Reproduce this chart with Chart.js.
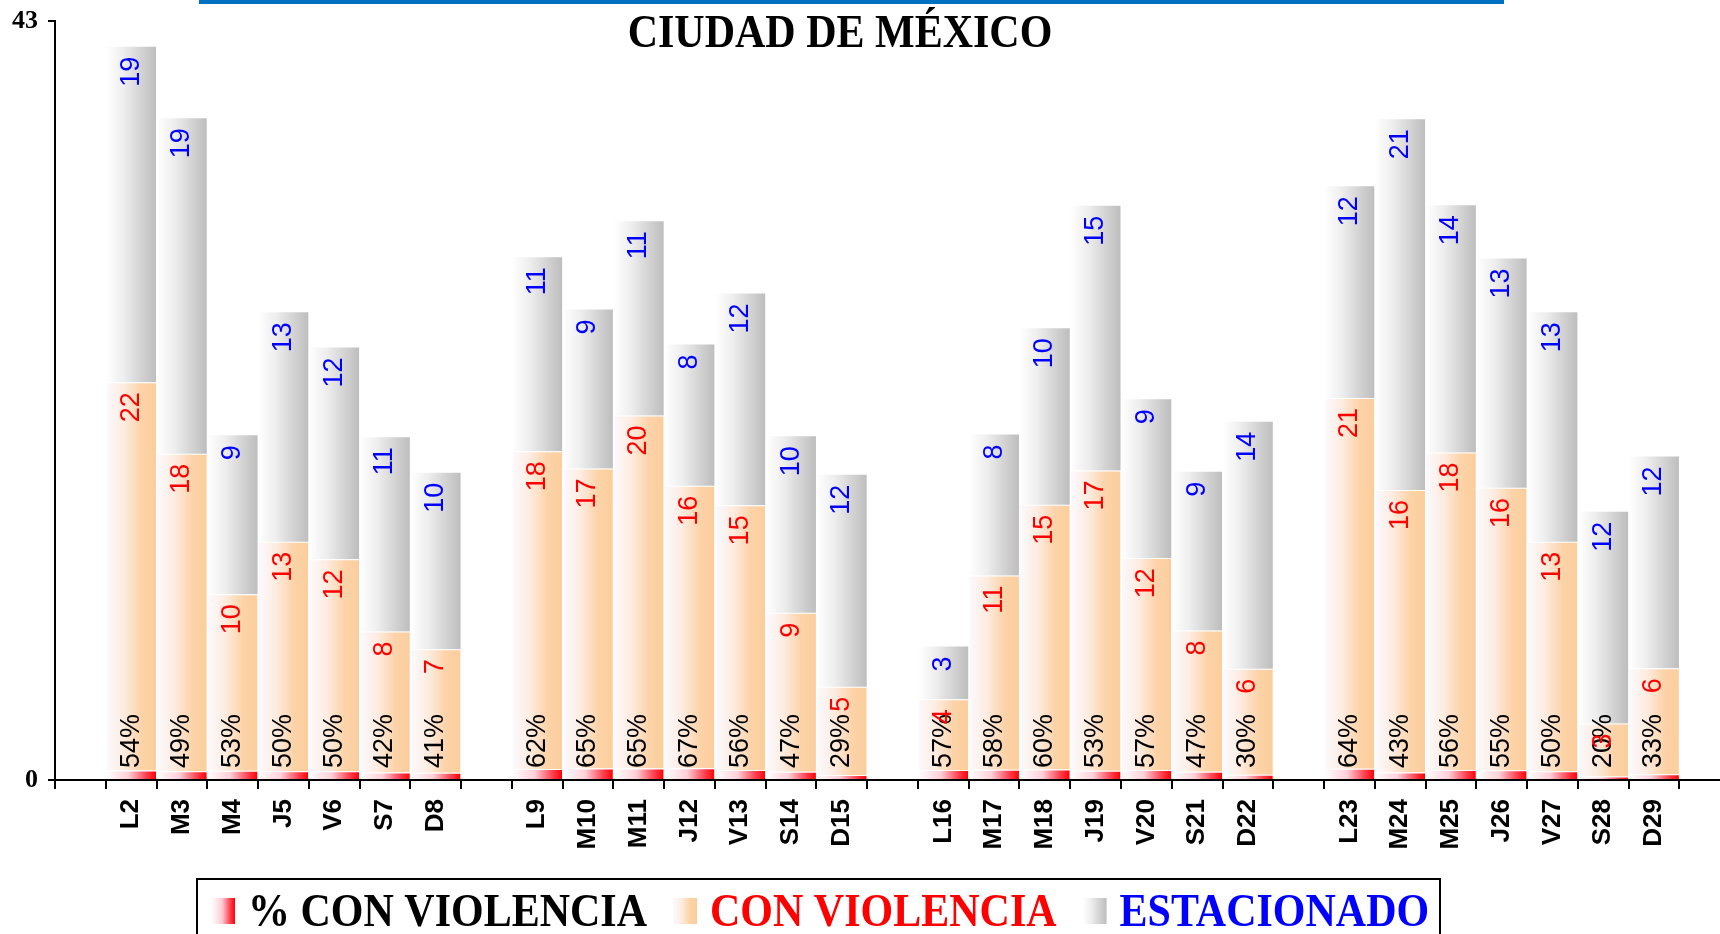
<!DOCTYPE html>
<html>
<head>
<meta charset="utf-8">
<script src="https://cdn.jsdelivr.net/npm/chart.js@4.4.1/dist/chart.umd.min.js"></script>
<style>
  html, body { margin: 0; padding: 0; background: #ffffff; overflow: hidden; }
  #wrap { width: 1746px; height: 934px; }
</style>
</head>
<body>
<div id="wrap"><canvas id="c" width="1746" height="934"></canvas></div>
<script>
// ---- DATA ----
const chartTitle = "CIUDAD DE MÉXICO";
const weekDays = [
  ["L2", "M3", "M4", "J5", "V6", "S7", "D8"],
  ["L9", "M10", "M11", "J12", "V13", "S14", "D15"],
  ["L16", "M17", "M18", "J19", "V20", "S21", "D22"],
  ["L23", "M24", "M25", "J26", "V27", "S28", "D29"]
];
const conViolencia = [
  [22, 18, 10, 13, 12, 8, 7],
  [18, 17, 20, 16, 15, 9, 5],
  [4, 11, 15, 17, 12, 8, 6],
  [21, 16, 18, 16, 13, 3, 6]
];
const estacionado = [
  [19, 19, 9, 13, 12, 11, 10],
  [11, 9, 11, 8, 12, 10, 12],
  [3, 8, 10, 15, 9, 9, 14],
  [12, 21, 14, 13, 13, 12, 12]
];
const pctConViolencia = [
  [54, 49, 53, 50, 50, 42, 41],
  [62, 65, 65, 67, 56, 47, 29],
  [57, 58, 60, 53, 57, 47, 30],
  [64, 43, 56, 55, 50, 20, 33]
];
const yTickValues = [0, 43];
const seriesNames = ["% CON VIOLENCIA", "CON VIOLENCIA", "ESTACIONADO"];

// Build category list with an empty slot before each week (and one at the end)
function withGaps(groups, mapFn) {
  const out = [];
  groups.forEach(g => { out.push(mapFn ? null : ""); g.forEach(v => out.push(mapFn ? mapFn(v) : v)); });
  out.push(mapFn ? null : "");
  return out;
}
const labels = withGaps(weekDays);
const dataCon = withGaps(conViolencia, v => v);
const dataEst = withGaps(estacionado, v => v);
const dataPctLabel = withGaps(pctConViolencia, v => v);
const dataPct = dataPctLabel.map(v => v == null ? null : v / 100);

// ---- STYLES ----
const gradRed = [[0, "#ffffff"], [0.45, "#ffd0d8"], [0.8, "#ff4050"], [1, "#ff0000"]];
const gradOrange = [[0, "#fbfaff"], [0.35, "#fdece0"], [0.7, "#fcd3a8"], [1, "#fbcd9b"]];
const gradGray = [[0, "#ffffff"], [0.35, "#eeeeee"], [0.75, "#cfcfcf"], [1, "#bdbdbd"]];

function makeGrad(stops) {
  return (ctx) => {
    const chart = ctx.chart;
    const xs = chart.scales && chart.scales.x;
    if (!xs || !chart.chartArea || ctx.dataIndex === undefined) return stops[stops.length - 1][1];
    const c = xs.getPixelForValue(ctx.dataIndex);
    const w = (xs.right - xs.left) / chart.data.labels.length;
    const g = chart.ctx.createLinearGradient(c - w / 2, 0, c + w / 2, 0);
    stops.forEach(s => g.addColorStop(s[0], s[1]));
    return g;
  };
}
function makeSwatchGrad(ctx, x, w, stops) {
  const g = ctx.createLinearGradient(x, 0, x + w, 0);
  stops.forEach(s => g.addColorStop(s[0], s[1]));
  return g;
}

const decorPlugin = {
  id: "decor",
  beforeDraw(chart) {
    const ctx = chart.ctx;
    ctx.save();
    ctx.fillStyle = "#ffffff";
    ctx.fillRect(0, 0, chart.width, chart.height);
    // blue rule at the top
    ctx.fillStyle = "#0070c0";
    ctx.fillRect(199, 0, 1305, 4);
    ctx.restore();
  },
  afterDraw(chart) {
    const ctx = chart.ctx;
    ctx.save();
    // title
    ctx.fillStyle = "#000000";
    ctx.font = "bold 42px 'Liberation Serif', 'Times New Roman', serif";
    ctx.textAlign = "center";
    ctx.textBaseline = "alphabetic";
    ctx.save();
    ctx.translate(840, 47);
    ctx.scale(1, 1.1);
    ctx.fillText(chartTitle, 0, 0);
    ctx.restore();

    // legend
    const colors = ["#000000", "#ff0000", "#0000ff"];
    const grads = [gradRed, gradOrange, gradGray];
    ctx.font = "bold 42px 'Liberation Serif', 'Times New Roman', serif";
    ctx.textAlign = "left";
    let x = 211;
    const sw = 24, gap = 13, itemGap = 26;
    seriesNames.forEach((name, i) => {
      ctx.fillStyle = makeSwatchGrad(ctx, x, sw, grads[i]);
      ctx.fillRect(x, 898, sw, 26);
      x += sw + gap;
      ctx.fillStyle = colors[i];
      ctx.save();
      ctx.translate(x, 926);
      ctx.scale(1, 1.12);
      ctx.fillText(name, 0, 0);
      ctx.restore();
      x += ctx.measureText(name).width + itemGap;
    });
    ctx.strokeStyle = "#000000";
    ctx.lineWidth = 2;
    ctx.strokeRect(197, 879, 1243, 70);
    ctx.restore();
  }
};

const valueLabelPlugin = {
  id: "valueLabels",
  afterDatasetsDraw(chart) {
    const ctx = chart.ctx;
    const ys = chart.scales.y;
    const zero = ys.getPixelForValue(0);
    ctx.save();
    ctx.font = "27px 'Liberation Sans', Arial, sans-serif";
    ctx.textBaseline = "middle";
    chart.data.datasets.forEach((ds, di) => {
      const meta = chart.getDatasetMeta(di);
      meta.data.forEach((el, i) => {
        const raw = ds.data[i];
        if (raw == null) return;
        ctx.save();
        if (di === 0) {
          ctx.translate(el.x, zero - 12);
          ctx.rotate(-Math.PI / 2);
          ctx.textAlign = "left";
          ctx.fillStyle = "#000000";
          ctx.fillText(dataPctLabel[i] + "%", 0, 0);
        } else {
          ctx.translate(el.x, el.y + 10);
          ctx.rotate(-Math.PI / 2);
          ctx.textAlign = "right";
          ctx.fillStyle = di === 1 ? "#ff0000" : "#0000ff";
          ctx.fillText(String(raw), 0, 0);
        }
        ctx.restore();
      });
    });
    ctx.restore();
  }
};

new Chart(document.getElementById("c"), {
  type: "bar",
  data: {
    labels: labels,
    datasets: [
      { label: seriesNames[0], data: dataPct, backgroundColor: makeGrad(gradRed),
        borderColor: "#ffffff", borderWidth: { top: 1, left: 0, right: 0, bottom: 0 }, borderSkipped: false },
      { label: seriesNames[1], data: dataCon, backgroundColor: makeGrad(gradOrange),
        borderColor: "#ffffff", borderWidth: { top: 1, left: 0, right: 0, bottom: 0 }, borderSkipped: false },
      { label: seriesNames[2], data: dataEst, backgroundColor: makeGrad(gradGray), borderWidth: 0 }
    ]
  },
  options: {
    responsive: false,
    animation: false,
    devicePixelRatio: 1,
    layout: { padding: { top: 21, left: 0, right: 0, bottom: 0 } },
    datasets: { bar: { categoryPercentage: 0.98, barPercentage: 1.0 } },
    plugins: {
      legend: { display: false },
      title: { display: false },
      tooltip: { enabled: false }
    },
    scales: {
      x: {
        stacked: true,
        offset: true,
        afterFit(scale) { scale.height = 154; },
        grid: { display: true, drawOnChartArea: false, drawTicks: true, tickLength: 9, offset: true,
                color: "#000000", lineWidth: 2 },
        border: { display: true, color: "#000000", width: 2 },
        ticks: {
          autoSkip: false, minRotation: 90, maxRotation: 90, padding: 10,
          color: "#000000",
          font: { family: "'Liberation Sans', Arial, sans-serif", size: 26, weight: "bold" }
        }
      },
      y: {
        stacked: true,
        min: 0, max: 43,
        afterFit(scale) { scale.width = 55; scale.paddingTop = 0; scale.paddingBottom = 0; },
        afterBuildTicks(scale) { scale.ticks = yTickValues.map(v => ({ value: v })); },
        grid: { display: true, drawOnChartArea: false, drawTicks: true, tickLength: 7,
                color: "#000000", lineWidth: 2 },
        border: { display: true, color: "#000000", width: 2 },
        ticks: {
          padding: 10, color: "#000000",
          font: { family: "'Liberation Serif', 'Times New Roman', serif", size: 26, weight: "bold" }
        }
      }
    }
  },
  plugins: [decorPlugin, valueLabelPlugin]
});
</script>
</body>
</html>
